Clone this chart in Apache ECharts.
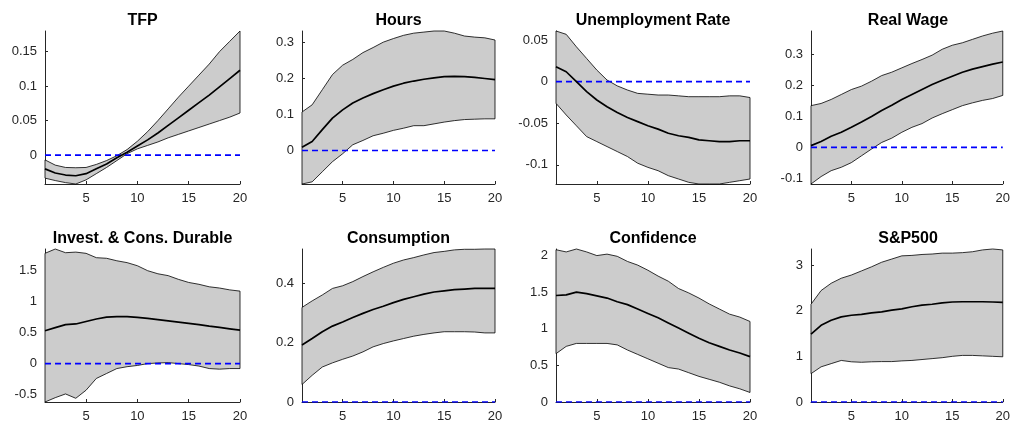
<!DOCTYPE html>
<html><head><meta charset="utf-8">
<script src="https://cdn.jsdelivr.net/npm/echarts@6/dist/echarts.min.js"></script>
<style>html,body{margin:0;padding:0;background:#fff}#c{width:1013px;height:423px}</style>
</head><body><div id="c"></div>
<script>
const horizons = [1,2,3,4,5,6,7,8,9,10,11,12,13,14,15,16,17,18,19,20];
const titles = ['TFP','Hours','Unemployment Rate','Real Wage','Invest. & Cons. Durable','Consumption','Confidence','S&P500'];
const xTicks = [5,10,15,20];

const tfpMedian = [-0.020,-0.026,-0.029,-0.030,-0.027,-0.020,-0.013,-0.004,0.004,0.013,0.022,0.032,0.043,0.054,0.065,0.076,0.087,0.099,0.111,0.123];
const tfpLower  = [-0.0335,-0.037,-0.040,-0.042,-0.036,-0.027,-0.018,-0.008,0.002,0.009,0.014,0.019,0.025,0.030,0.035,0.040,0.045,0.050,0.055,0.061];
const tfpUpper  = [-0.007,-0.0146,-0.018,-0.0184,-0.018,-0.0136,-0.008,-0.001,0.008,0.020,0.034,0.050,0.067,0.084,0.100,0.116,0.132,0.150,0.165,0.180];
const tfpTicks  = [0,0.05,0.1,0.15];

const hoursMedian = [0.009,0.025,0.058,0.090,0.113,0.132,0.146,0.158,0.169,0.179,0.187,0.193,0.198,0.202,0.205,0.206,0.205,0.203,0.200,0.197];
const hoursUpper  = [0.107,0.127,0.169,0.211,0.237,0.253,0.272,0.286,0.301,0.311,0.320,0.326,0.329,0.332,0.332,0.326,0.318,0.315,0.313,0.307];
const hoursLower  = [-0.093,-0.087,-0.059,-0.031,-0.009,0.016,0.028,0.041,0.048,0.056,0.062,0.069,0.069,0.074,0.079,0.083,0.086,0.087,0.088,0.088];
const hoursTicks  = [0,0.1,0.2,0.3];

const unempMedian = [0.018,0.012,0.000,-0.012,-0.022,-0.030,-0.037,-0.043,-0.048,-0.053,-0.057,-0.062,-0.065,-0.067,-0.070,-0.071,-0.072,-0.072,-0.071,-0.071];
const unempUpper  = [0.061,0.057,0.042,0.028,0.014,0.002,-0.005,-0.010,-0.014,-0.015,-0.016,-0.016,-0.017,-0.018,-0.018,-0.018,-0.018,-0.017,-0.017,-0.019];
const unempLower  = [-0.026,-0.040,-0.053,-0.066,-0.072,-0.078,-0.084,-0.090,-0.098,-0.103,-0.107,-0.113,-0.117,-0.121,-0.123,-0.123,-0.123,-0.121,-0.119,-0.117];
const unempTicks  = [-0.1,-0.05,0,0.05];

const wageMedian = [0.006,0.019,0.036,0.049,0.065,0.082,0.100,0.119,0.136,0.155,0.171,0.187,0.203,0.217,0.230,0.243,0.253,0.261,0.269,0.276];
const wageUpper  = [0.135,0.142,0.155,0.171,0.187,0.198,0.214,0.232,0.243,0.257,0.271,0.284,0.298,0.317,0.330,0.338,0.349,0.360,0.369,0.376];
const wageLower  = [-0.118,-0.094,-0.075,-0.064,-0.049,-0.027,-0.005,0.016,0.030,0.049,0.065,0.077,0.095,0.109,0.122,0.135,0.144,0.152,0.158,0.168];
const wageTicks  = [-0.1,0,0.1,0.2,0.3];

const investMedian = [0.53,0.58,0.63,0.64,0.68,0.72,0.75,0.757,0.757,0.746,0.73,0.71,0.69,0.67,0.65,0.63,0.605,0.584,0.562,0.54];
const investUpper  = [1.78,1.85,1.79,1.80,1.78,1.71,1.70,1.66,1.63,1.58,1.50,1.45,1.42,1.36,1.31,1.28,1.24,1.22,1.19,1.17];
const investLower  = [-0.62,-0.55,-0.49,-0.56,-0.43,-0.24,-0.16,-0.08,-0.05,-0.03,0.00,0.01,0.016,0.00,-0.016,-0.04,-0.08,-0.09,-0.08,-0.08];
const investTicks  = [-0.5,0,0.5,1,1.5];

const consMedian = [0.192,0.214,0.237,0.256,0.270,0.285,0.299,0.312,0.323,0.335,0.346,0.355,0.364,0.371,0.375,0.379,0.381,0.383,0.383,0.383];
const consUpper  = [0.319,0.341,0.361,0.383,0.392,0.406,0.423,0.439,0.454,0.468,0.479,0.487,0.496,0.504,0.508,0.513,0.515,0.515,0.516,0.516];
const consLower  = [0.059,0.090,0.118,0.132,0.144,0.155,0.169,0.186,0.197,0.206,0.214,0.222,0.228,0.233,0.237,0.237,0.237,0.236,0.233,0.233];
const consTicks  = [0,0.2,0.4];

const confMedian = [1.455,1.464,1.50,1.48,1.45,1.42,1.37,1.33,1.27,1.21,1.15,1.08,1.01,0.94,0.87,0.81,0.76,0.71,0.67,0.62];
const confUpper  = [2.08,2.05,2.09,2.05,2.00,2.02,1.99,1.92,1.87,1.80,1.72,1.65,1.55,1.49,1.42,1.34,1.27,1.20,1.16,1.10];
const confLower  = [0.66,0.76,0.80,0.80,0.80,0.80,0.78,0.71,0.65,0.59,0.53,0.47,0.45,0.40,0.35,0.31,0.27,0.22,0.18,0.13];
const confTicks  = [0,0.5,1,1.5,2];

const spMedian = [1.485,1.68,1.79,1.865,1.90,1.92,1.95,1.975,2.01,2.04,2.085,2.12,2.14,2.17,2.19,2.195,2.195,2.195,2.19,2.18];
const spUpper  = [2.14,2.44,2.60,2.71,2.78,2.87,2.96,3.06,3.13,3.20,3.21,3.23,3.24,3.26,3.26,3.27,3.29,3.33,3.35,3.33];
const spLower  = [0.62,0.77,0.84,0.91,0.88,0.87,0.88,0.885,0.885,0.90,0.91,0.93,0.95,0.97,1.00,1.02,1.02,1.01,1.00,0.99];
const spTicks  = [0,1,2,3];

const panels = [
  {med: tfpMedian, lo: tfpLower, hi: tfpUpper, ticks: tfpTicks},
  {med: hoursMedian, lo: hoursLower, hi: hoursUpper, ticks: hoursTicks},
  {med: unempMedian, lo: unempLower, hi: unempUpper, ticks: unempTicks},
  {med: wageMedian, lo: wageLower, hi: wageUpper, ticks: wageTicks},
  {med: investMedian, lo: investLower, hi: investUpper, ticks: investTicks},
  {med: consMedian, lo: consLower, hi: consUpper, ticks: consTicks},
  {med: confMedian, lo: confLower, hi: confUpper, ticks: confTicks},
  {med: spMedian, lo: spLower, hi: spUpper, ticks: spTicks}
];

// layout (pixels)
const colLeft = [45, 302, 556, 811];
const colWidth = [195, 193, 194, 194];
const rowTop = [31, 249];
const plotHeight = 153;
const titleY = [21, 239];

const FONT = 'Liberation Sans, Arial, Helvetica, sans-serif';
const AXIS_COLOR = '#262626';

const grids = [], xAxes = [], yAxes = [], series = [], graphics = [];
panels.forEach((p, k) => {
  const r = Math.floor(k / 4), c = k % 4;
  grids.push({left: colLeft[c], top: rowTop[r], width: colWidth[c], height: plotHeight, containLabel: false});
  const ymin = Math.min(0, ...p.lo), ymax = Math.max(0, ...p.hi);
  xAxes.push({
    type: 'value', gridIndex: k, min: horizons[0], max: horizons[horizons.length - 1],
    axisLine: {show: true, onZero: false, lineStyle: {color: AXIS_COLOR, width: 1}},
    axisTick: {show: true, inside: true, length: 3, customValues: xTicks, lineStyle: {color: AXIS_COLOR}},
    axisLabel: {customValues: xTicks, color: AXIS_COLOR, fontSize: 13, fontFamily: FONT, margin: 8},
    splitLine: {show: false}
  });
  yAxes.push({
    type: 'value', gridIndex: k, min: ymin, max: ymax,
    axisLine: {show: true, onZero: false, lineStyle: {color: AXIS_COLOR, width: 1}},
    axisTick: {show: true, inside: true, length: 3, customValues: p.ticks, lineStyle: {color: AXIS_COLOR}},
    axisLabel: {customValues: p.ticks, color: AXIS_COLOR, fontSize: 13, fontFamily: FONT, margin: 8,
      formatter: v => String(Math.round(v * 1000) / 1000)},
    splitLine: {show: false}
  });
  series.push({
    type: 'custom', xAxisIndex: k, yAxisIndex: k, silent: true, z: 1,
    data: horizons.map((h, i) => [h, p.lo[i], p.hi[i]]),
    encode: {x: 0, y: [1, 2]},
    renderItem: function (params, api) {
      if (params.dataIndex !== 0) return null;
      const pts = [];
      for (let i = 0; i < horizons.length; i++) pts.push(api.coord([horizons[i], p.hi[i]]));
      for (let i = horizons.length - 1; i >= 0; i--) pts.push(api.coord([horizons[i], p.lo[i]]));
      return {type: 'polygon', shape: {points: pts}, style: {fill: '#cccccc', stroke: '#000', lineWidth: 0.8}};
    }
  });
  series.push({
    type: 'line', xAxisIndex: k, yAxisIndex: k, z: 2, silent: true, showSymbol: false,
    data: [[horizons[0], 0], [horizons[horizons.length - 1], 0]],
    lineStyle: {color: '#0000ff', width: 1.7, type: [6, 4]}
  });
  series.push({
    type: 'line', xAxisIndex: k, yAxisIndex: k, z: 3, silent: true, showSymbol: false,
    data: horizons.map((h, i) => [h, p.med[i]]),
    lineStyle: {color: '#000', width: 1.7}
  });
  graphics.push({
    type: 'text', x: colLeft[c] + colWidth[c] / 2, y: titleY[r],
    style: {text: titles[k], align: 'center', verticalAlign: 'middle', font: 'bold 16px ' + FONT, fill: '#000'}
  });
});

const chart = echarts.init(document.getElementById('c'), null, {renderer: 'canvas'});
chart.setOption({
  animation: false,
  backgroundColor: '#fff',
  grid: grids, xAxis: xAxes, yAxis: yAxes, series: series, graphic: graphics
});
</script>
</body></html>
